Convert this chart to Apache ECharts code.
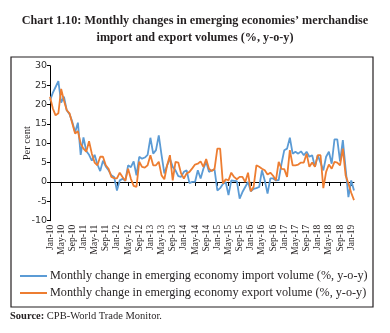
<!DOCTYPE html>
<html><head><meta charset="utf-8">
<script src="https://cdn.jsdelivr.net/npm/echarts@6/dist/echarts.min.js"></script>
<style>html,body{margin:0;padding:0;background:#fff;}#c{width:390px;height:333px;}</style>
</head><body><div id="c"></div>
<script>
// Categories: monthly Jan-10 .. Feb-19
const monthNames = ['Jan','Feb','Mar','Apr','May','Jun','Jul','Aug','Sep','Oct','Nov','Dec'];
const categories = [];
for (let y = 10; y <= 19; y++) {
  for (let m = 0; m < 12; m++) {
    if (y === 19 && m > 1) break;
    categories.push(monthNames[m] + '-' + y);
  }
}
const importVolume = [
  21, 23, 24.5, 26, 20.5, 22, 18.5, 17.5, 15.5, 12.8,
  15.3, 7, 11.5, 8, 7, 5.5, 7, 4.5, 2.8, 5.5,
  4, 3, 1.7, 1.3, -2.2, 0.4, 0.8, 0.3, 4.3, 3.8,
  5.3, 1.7, 6.5, 6, 6.3, 7, 11.4, 7.3, 8.2, 12,
  6.9, 2.2, 4.3, 6, 3.9, 3, 1.5, 1.3, 2.6, 3,
  -0.3, 0, 0, 3, 0.9, 3.4, 5.2, 2.6, 3, 3.2,
  -2.2, -1.6, -0.5, 0, -3.4, 0.4, 0.3, 0.2, -4.3, -2.6,
  -1.3, 0, -2.4, -1.8, -1.6, -1.3, 3, 0.4, -3, 0.9,
  0.9, 0.4, 0.5, 4.7, 8.2, 8.6, 11.4, 7.3, 7.8, 7.3,
  7.9, 6.9, 7.8, 6.5, 6.9, 3.9, 6.9, 5, 3, 6.5,
  7.8, 4.7, 11, 11, 5.3, 10.8, 3.4, -3.9, 0.4, -2.2
];
const exportVolume = [
  22, 19, 17.2, 17.7, 24, 21, 18.5, 17.7, 15.1, 12.5,
  13.1, 9.9, 8.6, 7.8, 10.5, 7.3, 5, 4.3, 6.5, 6.5,
  4.3, 3.4, 1.3, 1, 0.9, 2.4, 1.3, 0.3, 3.4, 0.8,
  -1, -1.3, 5.2, 3.9, 3.7, 4.3, 6.9, 4.3, 4.3, 5.2,
  1.7, 0.7, 4.3, 6.9, 0.4, 5.2, 5, 2.2, 0.9, 2.2,
  2.6, 3.5, 4.5, 4.7, 5.3, 3.9, 5.9, 3.4, 2.8, 3.4,
  8.6, 8.6, -0.4, 0.7, 0.4, 2.4, 1.3, 0.7, 1.3, 1.3,
  0, 2.4, -2.4, -1.3, 4.3, 3.9, 3.4, 3, 1.9, 2.4,
  1.6, 0.4, 5.2, 3.4, 3.3, 1.3, 8.2, 4.3, 4.3, 4.5,
  5, 5, 7.3, 3.9, 5, 3.9, 6.9, 6.9, -1.6, 2.6,
  4.5, 3.4, 5.2, 5, 4.3, 8.6, 1.7, -0.4, -2.8, -4.7
];
const seriesNames = [
  'Monthly change in emerging economy import volume (%, y-o-y)',
  'Monthly change in emerging economy export volume (%, y-o-y)'
];
const titleText = 'Chart 1.10: Monthly changes in emerging economies\u2019 merchandise\nimport and export volumes (%, y-o-y)';
const yTicks = {min: -10, max: 30, interval: 5};

const serif = '"Liberation Serif", "DejaVu Serif", serif';
const chart = echarts.init(document.getElementById('c'), null, {renderer: 'canvas'});
chart.setOption({
  animation: false,
  backgroundColor: '#fff',
  title: {
    text: titleText,
    left: 'center', top: 7,
    textStyle: {fontFamily: serif, fontWeight: 'bold', fontSize: 12.2, color: '#231f20', lineHeight: 17, align: 'center'}
  },
  grid: {left: 50, right: 36, top: 65.7, bottom: 112.3, containLabel: false},
  legend: {
    orient: 'vertical', left: 15, top: 265,
    itemWidth: 27, itemHeight: 12, itemGap: 5,
    textStyle: {fontFamily: serif, fontSize: 12.2, color: '#231f20', padding: [0,0,0,-2]},
    data: seriesNames.map((n) => ({name: n, icon: 'path://M0,0 L27,0 L27,2 L0,2 Z'}))
  },
  xAxis: [
    {
      type: 'category', data: categories, boundaryGap: false, position: 'bottom',
      axisLine: {show: false, onZero: false}, axisTick: {show: false},
      axisLabel: {interval: 3, rotate: 90, margin: 4, fontFamily: serif, fontSize: 9.5, color: '#231f20'},
      splitLine: {show: false}
    },
    {
      type: 'category', data: categories, boundaryGap: false, position: 'top',
      axisLine: {show: true, onZero: true, lineStyle: {color: '#000', width: 1}},
      axisTick: {show: true, inside: true, interval: 3, length: 4, lineStyle: {color: '#000'}},
      axisLabel: {show: false}, splitLine: {show: false}
    }
  ],
  yAxis: {
    type: 'value', min: yTicks.min, max: yTicks.max, interval: yTicks.interval,
    name: 'Per cent', nameLocation: 'middle', nameGap: 17, nameRotate: 90, nameMoveOverlap: false,
    nameTextStyle: {fontFamily: serif, fontSize: 10.5, color: '#231f20'},
    axisLine: {show: true, lineStyle: {color: '#000'}},
    axisTick: {show: true, length: 3, lineStyle: {color: '#000'}},
    axisLabel: {margin: 3, fontFamily: '"DejaVu Sans", Verdana, sans-serif', fontSize: 9.5, color: '#333'},
    splitLine: {show: false}
  },
  series: [
    {name: seriesNames[0], type: 'line', data: importVolume, symbol: 'none', xAxisIndex: 0,
     lineStyle: {color: '#5b9bd5', width: 1.8}, itemStyle: {color: '#5b9bd5'}},
    {name: seriesNames[1], type: 'line', data: exportVolume, symbol: 'none', xAxisIndex: 0,
     lineStyle: {color: '#ed7d31', width: 1.8}, itemStyle: {color: '#ed7d31'}}
  ],
  graphic: [
    {type: 'rect', shape: {x: 11, y: 57, width: 362, height: 250}, style: {fill: 'none', stroke: '#231f20', lineWidth: 1.2}, silent: true},
    {type: 'text', left: 10, top: 311, style: {
      text: '{b|Source:} CPB-World Trade Monitor.',
      rich: {b: {fontFamily: serif, fontWeight: 'bold', fontSize: 10.5, fill: '#231f20'}},
      font: '10.5px "Liberation Serif", serif', fill: '#231f20'
    }}
  ]
});
</script></body></html>
